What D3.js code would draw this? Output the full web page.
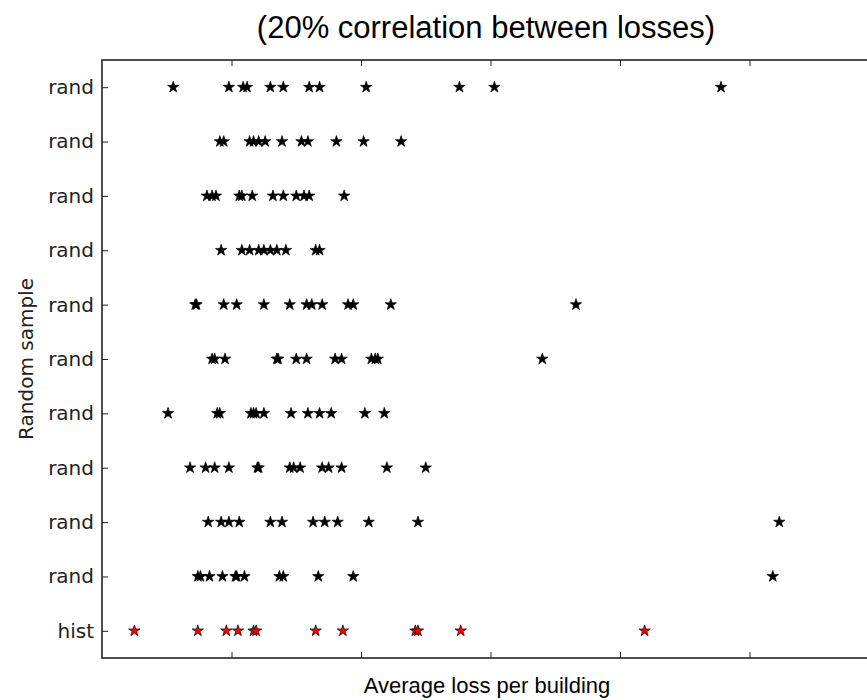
<!DOCTYPE html>
<html>
<head>
<meta charset="utf-8">
<script src="https://cdn.jsdelivr.net/npm/d3@7"></script>
<style>
  body { margin: 0; background: #fff; }
  svg { display: block; }
</style>
</head>
<body>
<div id="chart"></div>
<script>
// row labels, bottom (position 0) to top
var rowLabels = ['hist', 'rand', 'rand', 'rand', 'rand', 'rand', 'rand', 'rand', 'rand', 'rand', 'rand'];
var xTicks = [1, 2, 3, 4, 5];

// average loss per building (axis units)
var hist   = [0.25, 0.74, 0.96, 1.05, 1.17, 1.19, 1.65, 1.86, 2.42, 2.44, 2.77, 4.19];
var rand1  = [0.74, 0.76, 0.83, 0.93, 1.03, 1.04, 1.10, 1.37, 1.40, 1.67, 1.94, 5.18];
var rand2  = [0.82, 0.92, 0.98, 1.06, 1.30, 1.39, 1.63, 1.72, 1.82, 2.06, 2.44, 5.23];
var rand3  = [0.68, 0.80, 0.87, 0.98, 1.20, 1.21, 1.45, 1.48, 1.53, 1.70, 1.75, 1.85, 2.20, 2.50];
var rand4  = [0.51, 0.89, 0.91, 1.15, 1.17, 1.19, 1.25, 1.46, 1.59, 1.68, 1.77, 2.03, 2.18];
var rand5  = [0.85, 0.87, 0.95, 1.35, 1.36, 1.50, 1.58, 1.80, 1.85, 2.08, 2.11, 2.13, 3.40];
var rand6  = [0.72, 0.73, 0.94, 1.04, 1.25, 1.45, 1.58, 1.62, 1.70, 1.90, 1.94, 2.23, 3.66];
var rand7  = [0.92, 1.08, 1.14, 1.21, 1.25, 1.30, 1.35, 1.42, 1.65, 1.68];
var rand8  = [0.81, 0.85, 0.88, 1.06, 1.08, 1.16, 1.32, 1.40, 1.50, 1.56, 1.60, 1.87];
var rand9  = [0.91, 0.94, 1.14, 1.17, 1.21, 1.26, 1.39, 1.54, 1.59, 1.81, 2.02, 2.31];
var rand10 = [0.55, 0.98, 1.09, 1.12, 1.30, 1.40, 1.60, 1.68, 2.04, 2.76, 3.03, 4.78];

var samples = [hist, rand1, rand2, rand3, rand4, rand5, rand6, rand7, rand8, rand9, rand10];

var W = 867, H = 700;
var margin = { top: 60, left: 102, bottom: 42 };
var plotRight = 879;   // the right spine falls just outside the picture

var svg = d3.select("#chart").append("svg")
    .attr("width", W)
    .attr("height", H);

var x = d3.scaleLinear().domain([0, 6]).range([margin.left, plotRight]);
var y = d3.scaleLinear().domain([-0.5, 10.5]).range([H - margin.bottom, margin.top]);

// points
var pts = [];
samples.forEach(function (row, i) {
    row.forEach(function (v) { pts.push({ row: i, v: v }); });
});

var star = d3.symbol().type(d3.symbolStar).size(40);

svg.append("g").selectAll("path")
    .data(pts)
    .join("path")
    .attr("d", star)
    .attr("transform", function (d) { return "translate(" + x(d.v) + "," + y(d.row) + ")"; })
    .attr("fill", function (d) { return d.row == 0 ? "#ff0000" : "#000"; })
    .attr("stroke", "#000")
    .attr("stroke-width", 0.7);

// axes, ticks pointing inwards
var fontTick = "'DejaVu Sans', sans-serif";

svg.append("g")
    .attr("transform", "translate(0," + y(-0.5) + ")")
    .call(d3.axisBottom(x).tickValues(xTicks).tickSize(-6).tickFormat(""))
    .call(function (g) { g.select(".domain").remove(); });

svg.append("g")
    .attr("transform", "translate(0," + y(10.5) + ")")
    .call(d3.axisTop(x).tickValues(xTicks).tickSize(-6).tickFormat(""))
    .call(function (g) { g.select(".domain").remove(); });

var yax = svg.append("g")
    .attr("transform", "translate(" + margin.left + ",0)")
    .call(d3.axisLeft(y).tickValues(d3.range(11)).tickSize(-6).tickPadding(8)
        .tickFormat(function (i) { return rowLabels[i]; }))
    .call(function (g) { g.select(".domain").remove(); });
yax.selectAll("text")
    .style("font-family", fontTick)
    .style("font-size", "20px")
    .attr("fill", "#222");

svg.selectAll(".tick line").attr("stroke", "#222").attr("stroke-width", 1);

// frame
svg.append("rect")
    .attr("x", margin.left)
    .attr("y", y(10.5))
    .attr("width", plotRight - margin.left)
    .attr("height", y(-0.5) - y(10.5))
    .attr("fill", "none")
    .attr("stroke", "#222")
    .attr("stroke-width", 1.6);

// labels
svg.append("text")
    .attr("x", 486)
    .attr("y", 38)
    .attr("text-anchor", "middle")
    .style("font-family", "'Liberation Sans', Arial, sans-serif")
    .style("font-size", "31px")
    .text("(20% correlation between losses)");

svg.append("text")
    .attr("x", 487)
    .attr("y", 693)
    .attr("text-anchor", "middle")
    .style("font-family", "'Liberation Sans', Arial, sans-serif")
    .style("font-size", "22px")
    .text("Average loss per building");

svg.append("text")
    .attr("transform", "translate(33," + y(5) + ") rotate(-90)")
    .attr("text-anchor", "middle")
    .style("font-family", fontTick)
    .style("font-size", "20px")
    .attr("fill", "#222")
    .text("Random sample");
</script>
</body>
</html>
